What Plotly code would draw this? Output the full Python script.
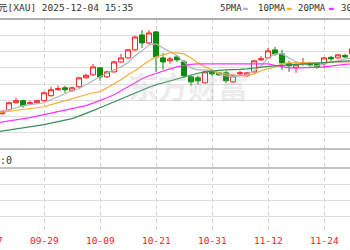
import plotly.graph_objects as go

# ---------------- data ----------------
DATES = ["09-17", "09-18", "09-19", "09-22", "09-23", "09-24", "09-25", "09-26",
         "09-29", "09-30", "10-01", "10-02", "10-03", "10-06", "10-07", "10-08",
         "10-09", "10-10", "10-13", "10-14", "10-15", "10-16", "10-17", "10-20",
         "10-21", "10-22", "10-23", "10-24", "10-27", "10-28", "10-29", "10-30",
         "10-31", "11-03", "11-04", "11-05", "11-06", "11-07", "11-10", "11-11",
         "11-12", "11-13", "11-14", "11-17", "11-18", "11-19", "11-20", "11-21",
         "11-24", "11-25", "11-26", "11-27", "11-28"]

CANDLE_DATES = DATES[2:]
OPEN = [3626, 3663, 3727, 3746, 3718, 3727, 3746, 3792, 3847, 3865, 3838, 3874, 3957,
        3985, 4049, 3966, 4012, 4104, 4141, 4215, 4353, 4279, 4381, 4141, 4114, 4150,
        4104, 3966, 3957, 3911, 4008, 4003, 4003, 3920, 3994, 3976, 4012, 4123, 4141,
        4215, 4178, 4091, 4049, 4081, 4095, 4086, 4086, 4146, 4141, 4164, 4178]
HIGH = [3654, 3736, 3773, 3755, 3746, 3755, 3828, 3874, 3884, 3884, 3874, 3966, 3994,
        4086, 4058, 4022, 4114, 4178, 4224, 4343, 4399, 4399, 4390, 4187, 4150, 4169,
        4123, 3985, 3976, 4022, 4031, 4012, 4022, 3985, 4022, 4012, 4123, 4160, 4233,
        4242, 4215, 4114, 4104, 4141, 4104, 4095, 4150, 4160, 4178, 4178, 4242]
LOW = [3617, 3654, 3718, 3681, 3709, 3718, 3736, 3782, 3838, 3819, 3828, 3865, 3948,
       3976, 3930, 3957, 4003, 4095, 4132, 4206, 4233, 4270, 4012, 4031, 4086, 4104,
       3957, 3884, 3893, 3902, 3976, 3976, 3911, 3911, 3976, 3966, 4003, 4114, 4132,
       4160, 4031, 4012, 4003, 4068, 4049, 4040, 4049, 4114, 4132, 4141, 4169]
CLOSE = [3644, 3727, 3746, 3700, 3727, 3746, 3819, 3847, 3856, 3847, 3865, 3957, 3980,
         4058, 3966, 4012, 4104, 4141, 4215, 4334, 4279, 4371, 4150, 4104, 4132, 4123,
         3976, 3920, 3930, 4012, 3994, 3985, 3930, 3976, 4003, 4003, 4114, 4132, 4206,
         4178, 4095, 4068, 4077, 4095, 4077, 4058, 4141, 4132, 4169, 4150, 4224]

MA_DATES = DATES[1:]
MA5 = [3640, 3649, 3663, 3681, 3700, 3709, 3718, 3727, 3755, 3782, 3810, 3838, 3856,
       3893, 3930, 3966, 4003, 4031, 4058, 4095, 4160, 4206, 4261, 4270, 4233, 4196,
       4160, 4104, 4049, 4031, 4031, 4022, 3994, 3976, 3966, 3976, 3985, 4022, 4068,
       4141, 4178, 4178, 4141, 4104, 4086, 4068, 4068, 4086, 4104, 4114, 4132, 4141]
MA10 = [3631, 3640, 3649, 3658, 3667, 3677, 3686, 3690, 3709, 3727, 3746, 3764, 3782,
        3801, 3819, 3828, 3865, 3902, 3939, 3985, 4022, 4068, 4114, 4150, 4169, 4187,
        4187, 4178, 4141, 4095, 4058, 4031, 4003, 3994, 3985, 3976, 3976, 3994, 4022,
        4040, 4058, 4086, 4095, 4095, 4095, 4095, 4095, 4095, 4104, 4104, 4104, 4104]
MA20 = [3539, 3548, 3557, 3571, 3580, 3589, 3603, 3617, 3631, 3644, 3658, 3667, 3686,
        3700, 3723, 3746, 3773, 3801, 3838, 3874, 3911, 3948, 3976, 3999, 4022, 4040,
        4058, 4072, 4081, 4086, 4086, 4086, 4086, 4086, 4086, 4086, 4086, 4086, 4086,
        4086, 4072, 4058, 4049, 4049, 4049, 4049, 4054, 4058, 4068, 4077, 4081, 4086]
MA30 = [3456, 3465, 3474, 3483, 3493, 3502, 3516, 3525, 3539, 3553, 3566, 3580, 3603,
        3626, 3654, 3681, 3709, 3736, 3764, 3792, 3819, 3847, 3870, 3893, 3911, 3930,
        3948, 3966, 3985, 3999, 4012, 4022, 4026, 4031, 4031, 4035, 4040, 4049, 4058,
        4063, 4068, 4072, 4077, 4077, 4081, 4086, 4091, 4095, 4100, 4104, 4109, 4114]

PRICE_TICKS = [3300, 3450, 3600, 3750, 3900, 4050, 4200, 4350, 4500]
VOL_TICKS = [1, 2, 3, 4]
LABEL_DATES = ["09-17", "09-29", "10-09", "10-21", "10-31", "11-12", "11-24"]
TITLE = "元[XAU] 2025-12-04 15:35"
LEGEND_NAMES = ["5PMA", "10PMA", "20PMA", "30PMA"]
VOL_TEXT = ":0"
WATERMARK = "东方财富"

# ---------------- styles / layout ----------------
W, H = 350, 250
VIEW = [1.714, 51.714]
RED = "#ff2020"
GREEN = "#0c8a0c"
MA_COLORS = ["#b4b4b4", "#f5ad3c", "#ff33ff", "#3a8f5a"]
MONO = "DejaVu Sans Mono, Noto Sans CJK SC"


def py(p):
    return 1 - p / H


def px(p):
    return p / W


fig = go.Figure()
fig.add_trace(go.Candlestick(
    x=CANDLE_DATES, open=OPEN, high=HIGH, low=LOW, close=CLOSE,
    increasing=dict(line=dict(color=RED, width=1), fillcolor="#ffffff"),
    decreasing=dict(line=dict(color=GREEN, width=1), fillcolor=GREEN),
    whiskerwidth=0, hoverinfo="skip", showlegend=False, xaxis="x", yaxis="y"))
for vals, col in zip([MA5, MA10, MA20, MA30], MA_COLORS):
    fig.add_trace(go.Scatter(x=MA_DATES, y=vals, mode="lines",
                             line=dict(color=col, width=1.2),
                             hoverinfo="skip", showlegend=False, xaxis="x", yaxis="y"))

xcommon = dict(type="category", categoryorder="array", categoryarray=DATES,
               range=VIEW, tickmode="array", tickvals=LABEL_DATES[1:],
               showticklabels=False, showgrid=True, gridcolor="#d2d2d2",
               griddash="4px,3px", gridwidth=1, zeroline=False, ticks="",
               domain=[0, 1], fixedrange=True)

fig.update_layout(
    width=W, height=H, margin=dict(l=0, r=0, t=0, b=0),
    paper_bgcolor="white", plot_bgcolor="white", showlegend=False,
    boxgap=0.28, boxgroupgap=0,
    xaxis=dict(**xcommon, anchor="y", rangeslider=dict(visible=False), showline=False),
    xaxis2=dict(**xcommon, anchor="y2", matches="x", showline=True,
                linecolor="#a0a0a0", linewidth=1),
    yaxis=dict(domain=[py(149), py(19)], range=[PRICE_TICKS[0], PRICE_TICKS[-1]],
               tickmode="array", tickvals=PRICE_TICKS, showticklabels=False,
               showgrid=True, gridcolor="#dedede", zeroline=False, ticks="",
               fixedrange=True),
    yaxis2=dict(domain=[py(232), py(149)], range=[0, 83 / 16],
                tickmode="array", tickvals=VOL_TICKS, showticklabels=False,
                showgrid=True, gridcolor="#dedede", zeroline=False, ticks="",
                fixedrange=True),
)

shapes = [
    dict(type="line", xref="paper", x0=0, x1=1, yref="y domain", y0=1, y1=1,
         line=dict(color="#b0b0b0", width=2)),
    dict(type="line", xref="paper", x0=0, x1=1, yref="y domain", y0=0, y1=0,
         line=dict(color="#c0c0c0", width=2)),
    dict(type="line", xref="paper", x0=0, x1=1, yref="y2", y0=VOL_TICKS[-1], y1=VOL_TICKS[-1],
         line=dict(color="#c4c4c4", width=2)),
]
fig.update_layout(shapes=shapes)

ann = []


def text(t, x, y, size, color, anchor="left", family=MONO, **kw):
    ann.append(dict(text=t, xref="paper", yref="paper", x=x, y=y, xanchor=anchor,
                    yanchor="middle", showarrow=False, borderpad=0, borderwidth=0,
                    font=dict(family=family, size=size, color=color, **kw)))


# watermark
text(WATERMARK, px(188), py(85), 30, "rgba(170,170,170,0.22)", anchor="center",
     family="Noto Sans CJK SC", weight="bold")
# header
text(TITLE, px(-2), py(7.5), 9.5, "#333333")
legend_x = [220, 258, 298, 341]
bar_x = [243, 287, 329]
for name, lx in zip(LEGEND_NAMES, legend_x):
    text(name, px(lx), py(8), 9, "#333333")
for col, bx in zip(MA_COLORS, bar_x):
    text("▬", px(bx), py(8), 8, col)
# volume header
text(VOL_TEXT, px(0), py(160), 10, "#333333")
# date labels (positions from the category index through the view range)
for d in LABEL_DATES:
    idx = DATES.index(d)
    fx = (idx - VIEW[0]) / (VIEW[1] - VIEW[0])
    text(d, fx, py(240), 9.5, RED, anchor="center")

fig.update_layout(annotations=ann)
fig.write_html("out.html")
